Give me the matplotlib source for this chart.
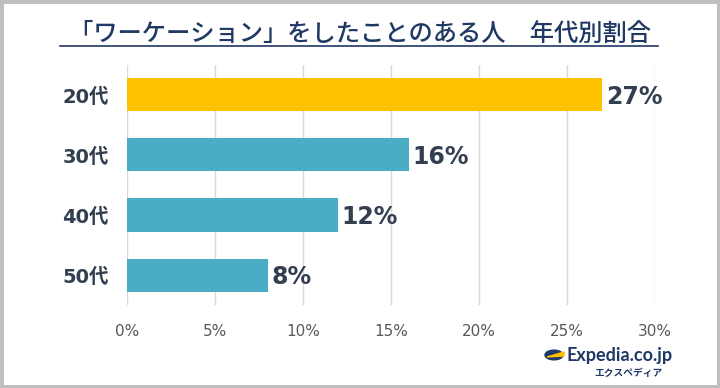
import matplotlib
matplotlib.use("Agg")
from matplotlib import pyplot as plt
from matplotlib.patches import Rectangle, Circle, Polygon
from matplotlib.lines import Line2D

plt.rcParams['font.family'] = ['Noto Sans CJK JP', 'DejaVu Sans']

# データ
ages = ["20代", "30代", "40代", "50代"]
rates = [27, 16, 12, 8]
bar_colors = ["#FFC000", "#4BACC6", "#4BACC6", "#4BACC6"]
xticks = [0, 5, 10, 15, 20, 25, 30]

fig = plt.figure(figsize=(7.2, 3.88), dpi=100)
ax = fig.add_axes([0.1764, 0.2139, 0.7333, 0.6186])

y = range(len(ages))
ax.barh(y, rates, height=0.55, color=bar_colors, zorder=3)
for i, v in enumerate(rates):
    ax.text(v + 0.2, i + 0.03, f"{v}%", va="center", ha="left", fontsize=17,
            fontweight="bold", color="#333F50", family=["DejaVu Sans"])

ax.set_xlim(0, 30)
ax.set_ylim(3.5, -0.5)
ax.set_xticks(xticks)
ax.set_xticklabels([f"{t}%" for t in xticks], fontsize=11, color="#595959",
                   family=["DejaVu Sans"])
ax.set_yticks(list(y))
ax.set_yticklabels(ages, fontsize=14, fontweight="bold", color="#333F50",
                   family=["DejaVu Sans", "Noto Sans CJK JP"])
ax.tick_params(length=0)
ax.tick_params(axis="x", pad=14)
ax.tick_params(axis="y", pad=13)
ax.grid(axis="x", color="#D9D9D9", linewidth=1, zorder=0)
for s in ax.spines.values():
    s.set_visible(False)

# タイトル（下線付き）
fig.text(0.5, 0.913, "「ワーケーション」をしたことのある人　年代別割合", ha="center",
         va="center", fontsize=17.5, fontweight="medium", color="#1F3864")
fig.add_artist(Line2D([60 / 720, 658 / 720], [1 - 46 / 388, 1 - 46 / 388],
                      color="#1F3864", linewidth=1.2))

# Expedia ロゴ
fig.add_artist(Circle((554 / 720, 1 - 355 / 388), 0.0125, transform=fig.transFigure,
                      color="#1F3864", zorder=5))
fig.text(566 / 720, 1 - 356 / 388, "Expedia.co.jp", ha="left", va="center",
         fontsize=13, fontweight="bold", color="#1F3864", family=["Lato", "DejaVu Sans"])
fig.text(628 / 720, 1 - 373 / 388, "エクスペディア", ha="center", va="center",
         fontsize=7, fontweight="bold", color="#1F3864")
fig.add_artist(Polygon([(547 / 720, 1 - 357 / 388), (564 / 720, 1 - 352 / 388),
                        (564 / 720, 1 - 356 / 388)], closed=True, transform=fig.transFigure,
                       color="#FFC000", zorder=6))

# 外枠
fig.add_artist(Rectangle((0, 0), 1, 1, transform=fig.transFigure, fill=False,
                         edgecolor="#BFBFBF", linewidth=5))

fig.savefig("out.png", dpi=100)
